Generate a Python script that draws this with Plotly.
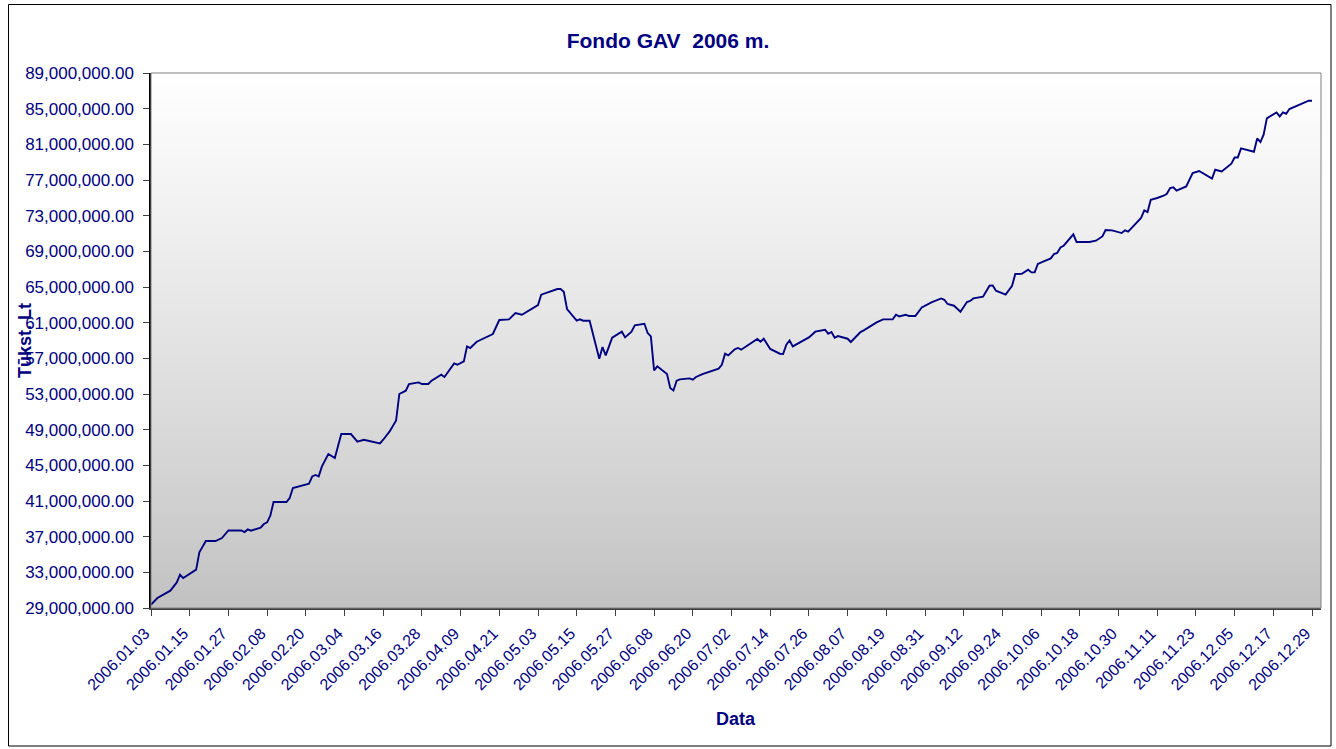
import plotly.graph_objects as go

# ---- data (values in millions of Lt) ----
dates = [
    "2006-01-03", "2006-01-05", "2006-01-09", "2006-01-11", "2006-01-12", "2006-01-13",
    "2006-01-17", "2006-01-18", "2006-01-20", "2006-01-23", "2006-01-25", "2006-01-27",
    "2006-01-31", "2006-02-01", "2006-02-02", "2006-02-03", "2006-02-06", "2006-02-07",
    "2006-02-08", "2006-02-09", "2006-02-10", "2006-02-14", "2006-02-15", "2006-02-16",
    "2006-02-21", "2006-02-22", "2006-02-23", "2006-02-24", "2006-02-25", "2006-02-27",
    "2006-03-01", "2006-03-02", "2006-03-03", "2006-03-06", "2006-03-08", "2006-03-10",
    "2006-03-15", "2006-03-16", "2006-03-18", "2006-03-20", "2006-03-21", "2006-03-23",
    "2006-03-24", "2006-03-27", "2006-03-28", "2006-03-30", "2006-03-31", "2006-04-03",
    "2006-04-04", "2006-04-07", "2006-04-08", "2006-04-10", "2006-04-11", "2006-04-12",
    "2006-04-14", "2006-04-19", "2006-04-21", "2006-04-24", "2006-04-26", "2006-04-28",
    "2006-05-03", "2006-05-04", "2006-05-09", "2006-05-10", "2006-05-11", "2006-05-12",
    "2006-05-15", "2006-05-16", "2006-05-17", "2006-05-19", "2006-05-22", "2006-05-23",
    "2006-05-24", "2006-05-26", "2006-05-29", "2006-05-30", "2006-06-01", "2006-06-02",
    "2006-06-05", "2006-06-06", "2006-06-07", "2006-06-08", "2006-06-09", "2006-06-12",
    "2006-06-13", "2006-06-14", "2006-06-15", "2006-06-16", "2006-06-19", "2006-06-20",
    "2006-06-21", "2006-06-23", "2006-06-28", "2006-06-29", "2006-06-30", "2006-07-01",
    "2006-07-03", "2006-07-04", "2006-07-05", "2006-07-10", "2006-07-11", "2006-07-12",
    "2006-07-14", "2006-07-17", "2006-07-18", "2006-07-19", "2006-07-20", "2006-07-21",
    "2006-07-25", "2006-07-26", "2006-07-28", "2006-07-31", "2006-08-01", "2006-08-02",
    "2006-08-03", "2006-08-04", "2006-08-07", "2006-08-08", "2006-08-11", "2006-08-12",
    "2006-08-16", "2006-08-18", "2006-08-21", "2006-08-22", "2006-08-23", "2006-08-25",
    "2006-08-26", "2006-08-28", "2006-08-30", "2006-09-02", "2006-09-05", "2006-09-06",
    "2006-09-07", "2006-09-09", "2006-09-11", "2006-09-13", "2006-09-14", "2006-09-15",
    "2006-09-18", "2006-09-20", "2006-09-21", "2006-09-22", "2006-09-25", "2006-09-27",
    "2006-09-28", "2006-09-30", "2006-10-02", "2006-10-03", "2006-10-04", "2006-10-05",
    "2006-10-07", "2006-10-09", "2006-10-10", "2006-10-11", "2006-10-12", "2006-10-13",
    "2006-10-16", "2006-10-17", "2006-10-21", "2006-10-23", "2006-10-25", "2006-10-26",
    "2006-10-28", "2006-10-31", "2006-11-01", "2006-11-02", "2006-11-06", "2006-11-07",
    "2006-11-08", "2006-11-09", "2006-11-11", "2006-11-13", "2006-11-14", "2006-11-15",
    "2006-11-16", "2006-11-17", "2006-11-20", "2006-11-22", "2006-11-24", "2006-11-28",
    "2006-11-29", "2006-12-01", "2006-12-04", "2006-12-05", "2006-12-06", "2006-12-07",
    "2006-12-11", "2006-12-12", "2006-12-13", "2006-12-14", "2006-12-15", "2006-12-18",
    "2006-12-19", "2006-12-20", "2006-12-21", "2006-12-22", "2006-12-28", "2006-12-29",
]

gav_mln = [
    29.37, 30.12, 30.94, 31.87, 32.73, 32.36,
    33.30, 35.24, 36.51, 36.51, 36.85, 37.70,
    37.70, 37.52, 37.81, 37.67, 38.01, 38.42,
    38.60, 39.35, 40.89, 40.89, 41.34, 42.46,
    42.94, 43.76, 43.92, 43.76, 44.88, 46.27,
    45.82, 47.20, 48.51, 48.51, 47.65, 47.87,
    47.46, 47.87, 48.80, 50.04, 53.00, 53.37,
    54.12, 54.30, 54.12, 54.12, 54.49, 55.16,
    54.91, 56.43, 56.28, 56.66, 58.34, 58.16,
    58.86, 59.73, 61.30, 61.37, 62.08, 61.89,
    62.98, 64.14, 64.77, 64.77, 64.47, 62.53,
    61.22, 61.37, 61.22, 61.22, 56.96, 58.27,
    57.33, 59.31, 59.99, 59.35, 59.99, 60.69,
    60.88, 59.84, 59.46, 55.65, 56.10, 55.24,
    53.67, 53.40, 54.49, 54.64, 54.75, 54.60,
    54.91, 55.24, 55.84, 56.28, 57.52, 57.33,
    58.00, 58.16, 57.97, 59.17, 58.86, 59.20,
    58.05, 57.52, 57.48, 58.53, 59.01, 58.34,
    59.20, 59.35, 59.99, 60.21, 59.76, 59.95,
    59.31, 59.50, 59.20, 58.83, 59.95, 60.13,
    61.03, 61.37, 61.37, 61.89, 61.70, 61.89,
    61.75, 61.75, 62.71, 63.27, 63.72, 63.57,
    63.09, 62.90, 62.23, 63.32, 63.43, 63.72,
    63.91, 65.14, 65.18, 64.58, 64.14, 65.14,
    66.46, 66.49, 66.94, 66.64, 66.64, 67.58,
    67.91, 68.21, 68.70, 68.81, 69.44, 69.63,
    70.90, 70.05, 70.05, 70.19, 70.67, 71.39,
    71.35, 71.05, 71.35, 71.20, 72.74, 73.59,
    73.41, 74.79, 74.98, 75.24, 75.46, 76.10,
    76.17, 75.80, 76.28, 77.78, 78.01, 77.15,
    78.15, 77.96, 78.83, 79.53, 79.53, 80.54,
    80.17, 81.66, 81.26, 82.08, 83.91, 84.58,
    84.13, 84.58, 84.43, 84.96, 85.89, 85.89,
]

title_text = "Fondo GAV  2006 m."
y_title = "Tūkst. Lt"
x_title = "Data"

gav = [v * 1_000_000 for v in gav_mln]

NAVY = "#000080"
FONT = "Liberation Sans, Arial, sans-serif"

fig = go.Figure()
fig.add_trace(go.Scatter(
    x=dates, y=gav, mode="lines",
    line=dict(color=NAVY, width=1.9),
    hoverinfo="x+y", showlegend=False,
))

# vertical gradient background of the plot area (white top -> grey bottom)
shapes = []
n_strips = 120
for i in range(n_strips):
    f = (i + 0.5) / n_strips
    c = int(round(192 + 63 * (f ** 0.85)))
    shapes.append(dict(
        type="rect", xref="paper", yref="paper",
        x0=0, x1=1, y0=i / n_strips, y1=(i + 1) / n_strips + 0.002,
        fillcolor=f"rgb({c},{c},{c})", line=dict(width=0), layer="below",
    ))
# plot area border (grey)
shapes.append(dict(type="rect", xref="paper", yref="paper", x0=0, x1=1, y0=0, y1=1,
                   line=dict(color="#808080", width=1), layer="above"))
# chart area border
L, R, T, B = 151, 15, 73, 141
W, H = 1336, 749
pw, ph = W - L - R, H - T - B
def px_x(p):
    return (p - L) / pw
def px_y(p):
    return (H - B - p) / ph
shapes.append(dict(type="rect", xref="paper", yref="paper",
                   x0=px_x(8.5), x1=px_x(1331), y0=px_y(746), y1=px_y(4.5),
                   line=dict(color="#000000", width=1), layer="above"))

fig.update_layout(
    width=W, height=H,
    margin=dict(l=L, r=R, t=T, b=B, pad=0),
    paper_bgcolor="white",
    plot_bgcolor="#c0c0c0",
    font=dict(family=FONT, color=NAVY),
    title=dict(text=title_text, x=0.5, xref="container", xanchor="center",
               y=1 - 41 / H, yref="container", yanchor="middle",
               font=dict(family=FONT, size=21, color=NAVY, weight="bold")),
    shapes=shapes,
    annotations=[
        dict(text=y_title, xref="paper", yref="paper", x=px_x(24.5), y=0.5,
             textangle=-90, showarrow=False, xanchor="center", yanchor="middle",
             font=dict(family=FONT, size=18, color=NAVY, weight="bold")),
        dict(text=x_title, xref="paper", yref="paper", x=0.5, y=px_y(719),
             showarrow=False, xanchor="center", yanchor="middle",
             font=dict(family=FONT, size=18, color=NAVY, weight="bold")),
    ],
)

fig.update_xaxes(
    type="date",
    range=["2006-01-03", "2006-12-31 19:00"],
    tick0="2006-01-03", dtick=12 * 86400000,
    tickformat="%Y.%m.%d", tickangle=-45,
    ticks="outside", ticklen=6, tickcolor="#404040", tickwidth=1,
    showline=True, linecolor="#404040", linewidth=1.5,
    showgrid=False, zeroline=False,
    ticklabelshift=-6, ticklabelstandoff=2,
    tickfont=dict(family=FONT, size=16, color=NAVY),
)
fig.update_yaxes(
    range=[29_000_000, 89_000_000],
    tick0=29_000_000, dtick=4_000_000,
    tickformat=",.2f",
    ticks="outside", ticklen=6, tickcolor="#404040", tickwidth=1,
    showline=True, linecolor="#000000", linewidth=1.5,
    showgrid=False, zeroline=False,
    ticklabelstandoff=6,
    tickfont=dict(family=FONT, size=17, color=NAVY),
)

fig.write_html("out.html", config={"displayModeBar": False},
               post_script="document.body.style.margin='0';")
